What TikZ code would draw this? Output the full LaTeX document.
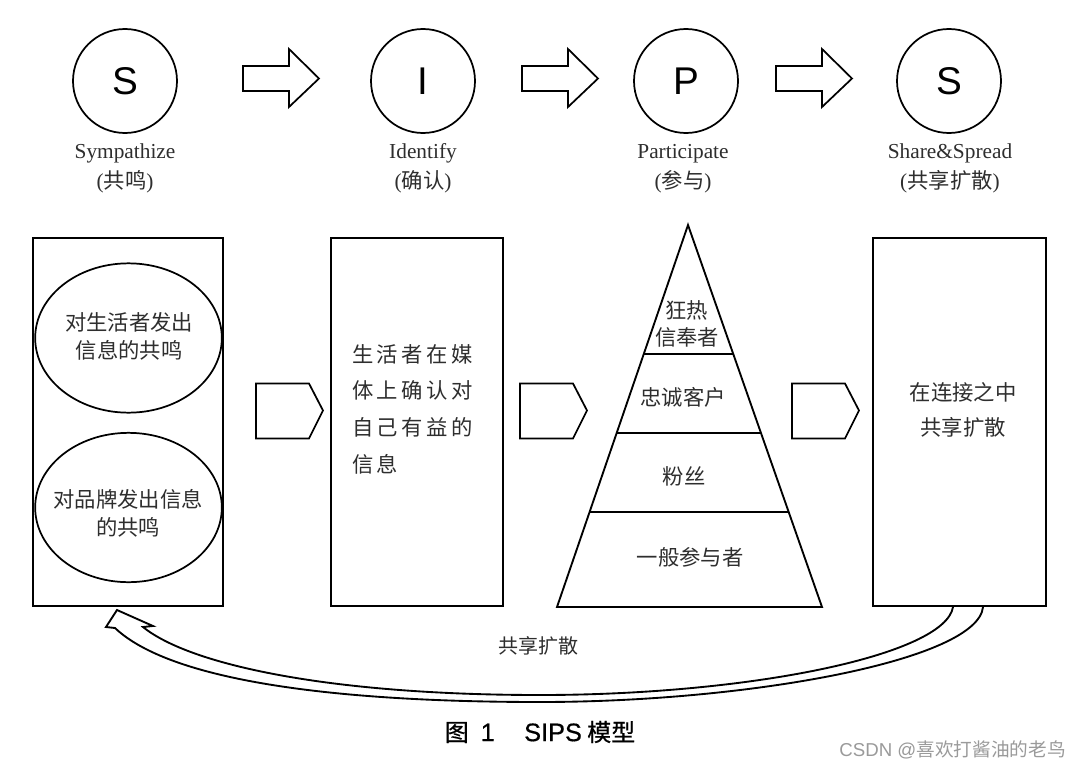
\documentclass[tikz,border=0pt]{standalone}
\usepackage{fontspec}
\setmainfont{Liberation Serif}
\newfontfamily\cjk{Noto Sans CJK SC}
\newfontfamily\cjksp{Noto Sans CJK SC}[LetterSpace=16]
\newfontfamily\cjkcap{Noto Sans CJK SC}[FakeBold=0.6]
\newfontfamily\arialf{Liberation Sans}
\newfontfamily\arialcap{Liberation Sans}[FakeBold=0.6]
\usetikzlibrary{shapes.geometric,calc}
\definecolor{txt}{HTML}{2E2E2E}
\definecolor{wm}{HTML}{9A9A9A}
\begin{document}
\begin{tikzpicture}[x=0.75pt,y=-0.75pt,
  stage/.style={circle,draw,line width=1.3pt,minimum size=78pt,inner sep=0pt,
    font=\arialf\fontsize{29}{29}\selectfont},
  ename/.style={font=\fontsize{16}{16}\selectfont,text=txt,inner sep=0pt,anchor=base},
  cname/.style={font=\fontsize{16}{16}\selectfont,text=txt,inner sep=0pt},
  panel/.style={draw,line width=1.4pt,minimum height=276pt,inner sep=0pt},
  oval/.style={ellipse,draw,line width=1.3pt,minimum width=140pt,minimum height=112pt,
    inner sep=0pt},
  cjktext/.style={text=txt,inner sep=0pt,font=\cjk\fontsize{16}{21}\selectfont},
  shape line/.style={line width=1.4pt},
  bigarrow/.pic={\draw[line width=1.3pt,fill=white]
     (0,-12.5) -- (46,-12.5) -- (46,-29.5) -- (76,0) -- (46,28.5) -- (46,12.5) -- (0,12.5) -- cycle;},
  chev/.pic={\draw[line width=1.3pt,fill=white]
     (0,-27) -- (53,-27) -- (67,0) -- (53,28) -- (0,28) -- cycle;}
]
\useasboundingbox[fill=white] (0,0) rectangle (1080,770);

% top stages
\node[stage] (s1) at (125,81) {S};
\node[stage] (s2) at (423,81) {I};
\node[stage] (s3) at (686,81) {P};
\node[stage] (s4) at (949,81) {S};

\node[ename] (e1) at (125,158) {Sympathize};
\node[ename] (e2) at (423,158) {Identify};
\node[ename] (e3) at (683,158) {Participate};
\node[ename] (e4) at (950,158) {Share\&Spread};

\node[cname] (c1) at (125,182) {({\cjk 共鸣})};
\node[cname] (c2) at (423,182) {({\cjk 确认})};
\node[cname] (c3) at (683,182) {({\cjk 参与})};
\node[cname] (c4) at (950,182) {({\cjk 共享扩散})};

\pic at (243,78.5) {bigarrow};
\pic at (522,78.5) {bigarrow};
\pic at (776,78.5) {bigarrow};

% panels
\node[panel,minimum width=142.5pt] (b1) at (128,422) {};
\node[oval] (o1) at (128.5,338) {};
\node[oval] (o2) at (128.5,507.5) {};
\node[cjktext,align=center] (o1t) at (129,336) {对生活者发出\\信息的共鸣};
\node[cjktext,align=center] (o2t) at (128,513) {对品牌发出信息\\的共鸣};

\node[panel,minimum width=129pt] (b2) at (417,422) {};
\node[text=txt,inner sep=0pt,anchor=west,align=left,
  font=\cjksp\fontsize{16}{27.5}\selectfont] (t2) at (352,409)
  {生活者在媒\\体上确认对\\自己有益的\\信息};

\node[panel,minimum width=129.75pt] (b4) at (959.5,422) {};
\node[cjktext,align=center,font=\cjk\fontsize{16}{26.25}\selectfont] (t4) at (963,409.5)
  {在连接之中\\共享扩散};

\pic at (256,410.5) {chev};
\pic at (520,410.5) {chev};
\pic at (792,410.5) {chev};

% pyramid
\coordinate (apex) at (688,225);
\coordinate (bl) at (557,607);
\coordinate (br) at (822,607);
\draw[shape line,line join=miter] (apex) -- (br) -- (bl) -- cycle;
\foreach \f in {0.3377,0.5445,0.7513}{
  \draw[shape line] ($(apex)!\f!(bl)$) -- ($(apex)!\f!(br)$);
}
\node[cjktext] (p1a) at (686.5,310) {狂热};
\node[cjktext] (p1b) at (687,337) {信奉者};
\node[cjktext] (p2) at (683,397) {忠诚客户};
\node[cjktext] (p3) at (684,476) {粉丝};
\node[cjktext] (p4) at (690,557) {一般参与者};

% feedback arrow
\coordinate (fstartA) at (953,607);
\coordinate (fstartB) at (983,607);
\draw[line width=1.4pt,line join=miter,fill=white]
  (fstartA) .. controls (945,655) and (750,695) .. (540,695)
  .. controls (330,695) and (190,665) .. (143,627)
  -- (153,626) -- (117,610) -- (106,627) -- (115,628)
  .. controls (170,680) and (330,702) .. (540,702)
  .. controls (750,702) and (978,660) .. (fstartB);
\node[cjktext,font=\cjk\fontsize{15}{15}\selectfont] (fl) at (538,646) {共享扩散};

% caption
\node[inner sep=0pt,text=black] (cap) at (540,732)
  {{\cjkcap\fontsize{18}{18}\selectfont 图}\hspace{9pt}{\arialcap\fontsize{19}{19}\selectfont 1}\hspace{22pt}{\arialcap\fontsize{19}{19}\selectfont SIPS}\hspace{4pt}{\cjkcap\fontsize{18}{18}\selectfont 模型}};

% watermark
\node[inner sep=0pt,anchor=east,text=wm] (wmk) at (1066,750)
  {{\arialf\fontsize{14}{14}\selectfont CSDN @}{\cjk\fontsize{14}{14}\selectfont 喜欢打酱油的老鸟}};
\end{tikzpicture}
\end{document}
